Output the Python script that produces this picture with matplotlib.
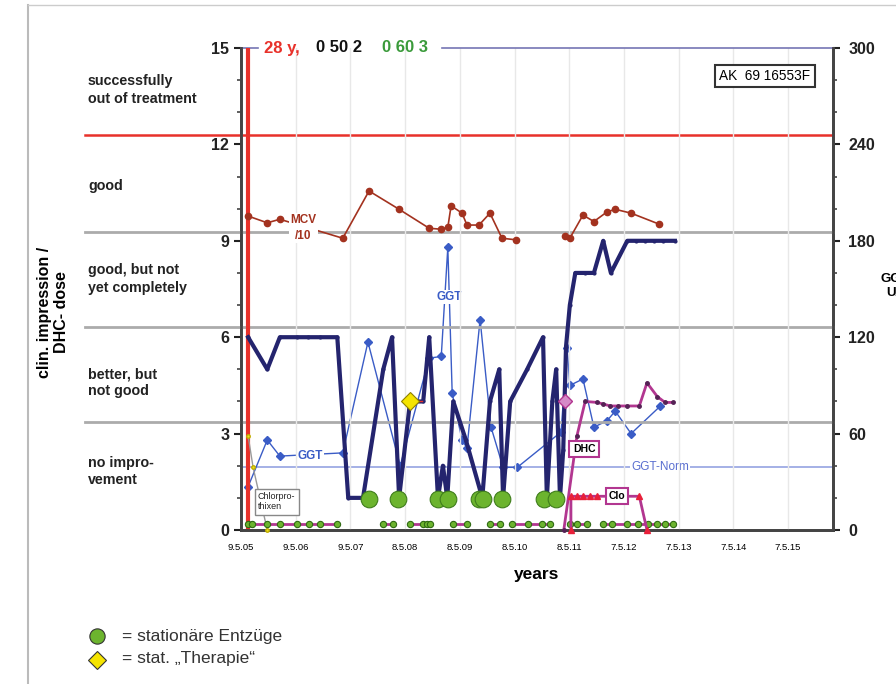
import numpy as np
import matplotlib.pyplot as plt
from matplotlib.lines import Line2D

plt.rcParams['font.family'] = ['Liberation Sans', 'DejaVu Sans']

# x-Achse: Jahre seit 9.5.05
tick_labels = ['9.5.05', '9.5.06', '9.5.07', '8.5.08', '8.5.09', '8.5.10',
               '8.5.11', '7.5.12', '7.5.13', '7.5.14', '7.5.15']

# klinischer Eindruck / DHC-Dosis (dicke Linie)
clin_x = [0.13, 0.48, 0.71, 1.02, 1.22, 1.44, 1.76, 1.96, 2.23, 2.60, 2.76, 2.89,
          3.09, 3.33, 3.44, 3.60, 3.69, 3.77, 3.88, 4.11, 4.41, 4.55, 4.72, 4.79,
          4.92, 5.23, 5.52, 5.59, 5.69, 5.76, 5.83, 5.89, 5.94, 6.01, 6.11, 6.29,
          6.45, 6.62, 6.76, 7.06, 7.22, 7.39, 7.55, 7.71, 7.93]
clin_y = [6, 5, 6, 6, 6, 6, 6, 1, 1, 5, 6, 1,
          4, 4, 6, 1, 2, 1, 4, 2.8, 1, 4, 5, 1,
          4, 5, 6, 1, 4, 5, 1, 2.5, 5.7, 7, 8, 8,
          8, 9, 8, 9, 9, 9, 9, 9, 9]

# GGT in U/l (rechte Achse)
ggt_x = [0.13, 0.48, 0.71, 1.86, 2.32, 2.91, 3.44, 3.66, 3.78, 3.86, 4.04, 4.13,
         4.37, 4.57, 4.79, 5.05, 5.85, 5.96, 6.01, 6.25, 6.45, 6.69, 6.84, 7.13, 7.66]
ggt_y = [27, 56, 46, 48, 117, 40, 107, 108, 176, 85, 56, 51,
         131, 64, 39, 39, 61, 113, 90, 94, 64, 68, 74, 60, 77]
ggt_norm = 39

# MCV (fl), dargestellt als MCV/10
mcv_x = [0.13, 0.48, 0.71, 1.86, 2.34, 2.89, 3.44, 3.66, 3.78, 3.84, 4.04, 4.13,
         4.35, 4.55, 4.77, 5.03, np.nan, 5.92, 6.01, 6.25, 6.45, 6.69, 6.84, 7.13, 7.64]
mcv_y = [97.7, 95.6, 96.7, 90.8, 105.5, 99.8, 93.9, 93.6, 94.2, 100.9, 98.6, 94.9,
         94.9, 98.6, 90.8, 90.3, np.nan, 91.5, 90.8, 98.0, 96.0, 99.0, 99.8, 98.6, 95.2]

# DHC
dhc_x = [5.90, 6.14, 6.29, 6.51, 6.62, 6.75, 6.89, 7.06, 7.28, 7.42, 7.61, 7.75, 7.90]
dhc_y = [0, 2.93, 4.0, 3.97, 3.92, 3.86, 3.86, 3.86, 3.86, 4.58, 4.15, 3.97, 3.97]

# Clo
clo_x = [6.03, 6.03, 6.14, 6.25, 6.38, 6.51, 7.28, 7.42]
clo_y = [0, 1.05, 1.05, 1.05, 1.05, 1.05, 1.05, 0]

# Chlorprothixen
chlor_x = [0.13, 0.22, 0.48]
chlor_y = [2.93, 1.96, 0]

# kleine Punkte unten (Gruppen)
dot_groups = [
    [0.13, 0.20, 0.48, 0.71, 1.02, 1.24, 1.44, 1.76],
    [2.60, 2.78],
    [3.09, 3.33, 3.40, 3.46],
    [3.88, 4.13],
    [4.55, 4.73],
    [4.95, 5.25, 5.50, 5.65],
    [6.01, 6.14, 6.33],
    [6.62, 6.78, 7.06, 7.26, 7.44, 7.61, 7.75, 7.90],
]
dot_level = 0.18

# stationäre Entzüge
entzug_x = [2.34, 2.87, 3.60, 3.78, 4.35, 4.42, 4.77, 5.54, 5.76]
entzug_y = [0.97] * len(entzug_x)

# stat. "Therapie"
therapie_x = [3.09]
therapie_y = [4.0]

# Kategorien links
cat_labels = ['successfully\nout of treatment', 'good', 'good, but not\nyet completely',
              'better, but\nnot good', 'no impro-\nvement']
cat_y = [13.69, 10.7, 7.81, 4.58, 1.82]
gray_levels = [3.36, 6.32, 9.27]
red_level = 12.3
start_x = 0.13

navy = '#24246e'
blue = '#3a5cc6'
brown = '#a3321f'
mag = '#b23690'
red = '#e8312a'
green = '#6cb42e'

fig = plt.figure(figsize=(8.96, 6.84), dpi=100)
ax = fig.add_axes([241 / 896, 1 - 530 / 684, (833 - 241) / 896, (530 - 48) / 684])
ax2 = ax.twinx()
ax.set_zorder(ax2.get_zorder() + 1)
ax.patch.set_visible(False)

ax.set_xlim(0, 10.82)
ax.set_ylim(0, 15)
ax2.set_ylim(0, 300)

ax.set_xticks(range(len(tick_labels)))
ax.set_xticklabels(tick_labels, fontsize=6.8)
ax.tick_params(axis='x', length=0, pad=9)
ax.set_yticks([0, 3, 6, 9, 12, 15])
ax.set_yticks(range(16), minor=True)
ax.tick_params(axis='y', which='major', labelsize=11.5, length=5, width=1.5, colors='#222')
ax.tick_params(axis='y', which='minor', length=3, width=1.2, colors='#444')
for lab in ax.get_yticklabels():
    lab.set_fontweight('bold')
ax2.set_yticks([0, 60, 120, 180, 240, 300])
ax2.set_yticks(range(0, 301, 20), minor=True)
ax2.tick_params(axis='y', which='major', labelsize=11.5, length=5, width=1.5, colors='#222',
                pad=6)
ax2.tick_params(axis='y', which='minor', length=3, width=1.2, colors='#444')
for lab in ax2.get_yticklabels():
    lab.set_fontweight('bold')
ax.set_xlabel('years', fontsize=12.5, fontweight='bold', labelpad=11)

for a in (ax, ax2):
    a.spines['top'].set_visible(False)
    for s in ('left', 'bottom', 'right'):
        a.spines[s].set_color('#444')
        a.spines[s].set_linewidth(2)

# obere Kante (blau) mit Lücke für Text
ax.plot([0, 0.028], [1, 1], color='#7676b4', lw=1.2, transform=ax.transAxes, clip_on=False)
ax.plot([0.34, 1], [1, 1], color='#7676b4', lw=1.2, transform=ax.transAxes, clip_on=False)

ax.grid(axis='x', color='#e8e8e8', lw=1)
ax2.grid(False)

# Bänder
x_left = (85 - 241) / (833 - 241)
for lv in gray_levels:
    ax.plot([x_left, 1], [lv, lv], color='#ababab', lw=2,
            transform=ax.get_yaxis_transform(), clip_on=False, zorder=1)
ax.plot([x_left, 1], [red_level, red_level], color=red, lw=1.8,
        transform=ax.get_yaxis_transform(), clip_on=False, zorder=1)
ax.axvline(start_x, color=red, lw=3, zorder=2)

for lab, y in zip(cat_labels, cat_y):
    ax.text(x_left + 0.005, y, lab, transform=ax.get_yaxis_transform(),
            fontsize=10.3, fontweight='bold', va='center', ha='left', color='#222',
            linespacing=1.3)

# GGT (rechte Achse)
ax2.axhline(ggt_norm, color='#95a3e2', lw=1.2, zorder=1)
ax2.text(7.66, ggt_norm, 'GGT-Norm', color='#5a6fd0', fontsize=8.5, ha='center', va='center',
         bbox=dict(facecolor='white', edgecolor='none', pad=0.5))
ax2.plot(ggt_x, ggt_y, color=blue, lw=1, marker='D', ms=4.5, zorder=3)
ax2.text(1.26, 46, 'GGT', color=blue, fontsize=8.5, fontweight='bold', ha='center', va='center',
         bbox=dict(facecolor='white', edgecolor='none', pad=1))
ax2.text(3.80, 145, 'GGT', color=blue, fontsize=8.5, fontweight='bold', ha='center', va='center',
         bbox=dict(facecolor='white', edgecolor='none', pad=1))

# MCV/10
mcv10 = np.array(mcv_y) / 10
ax.plot(mcv_x, mcv10, color=brown, lw=1.2, marker='o', ms=4.5, zorder=3)
ax.text(1.14, 9.4, 'MCV\n/10', color=brown, fontsize=8.5, fontweight='bold', ha='center',
        va='center', linespacing=1.4, bbox=dict(facecolor='white', edgecolor='none', pad=1))

# Chlorprothixen
ax.plot(chlor_x, chlor_y, color='#999', lw=1, marker='o', ms=2.5, mfc='#f0e020',
        mec='#c0b000', zorder=3, clip_on=False)
ax.text(0.31, 0.88, 'Chlorpro-\nthixen', fontsize=6.5, ha='left', va='center', color='#222',
        bbox=dict(facecolor='white', edgecolor='#888', pad=2.5), zorder=6)

# kleine Punkte unten
dx, dy = [], []
for g in dot_groups:
    dx += g + [np.nan]
    dy += [dot_level] * len(g) + [np.nan]
ax.plot(dx, dy, color=mag, lw=2, marker='o', ms=4.5, mfc=green, mec='#2f6a12',
        mew=0.8, zorder=4)

# DHC und Clo
ax.plot(dhc_x, dhc_y, color=mag, lw=2, marker='o', ms=2.5, mfc='#552255', mec='#552255',
        zorder=5, clip_on=False)
ax.plot(clo_x, clo_y, color=mag, lw=2, marker='^', ms=5, mfc='#e8203a', mec='#e8203a',
        zorder=5, clip_on=False)
ax.plot([5.92], [4.0], marker='D', ms=7, mfc='#d58ac8', mec=mag, ls='none', zorder=6)
ax.text(6.27, 2.52, 'DHC', fontsize=7.5, fontweight='bold', ha='center', va='center',
        bbox=dict(facecolor='white', edgecolor=mag, lw=1.5, pad=2.5), zorder=7)
ax.text(6.87, 1.06, 'Clo', fontsize=7.5, fontweight='bold', ha='center', va='center',
        bbox=dict(facecolor='white', edgecolor=mag, lw=1.5, pad=2), zorder=7)

# klinischer Eindruck
ax.plot(clin_x, clin_y, color=navy, lw=3, marker='o', ms=2, zorder=5)

# Entzüge und Therapie
ax.plot(entzug_x, entzug_y, ls='none', marker='o', ms=12, mfc=green, mec='#3f7d1c',
        mew=0.8, zorder=6)
ax.plot(therapie_x, therapie_y, ls='none', marker='D', ms=9, mfc='#f5e400',
        mec='#8f8000', mew=0.8, zorder=6)
ax.plot([3.12, 3.3], [4.0, 4.0], color=red, lw=1, zorder=5)

# Kopfzeile
ytop = 1 - 48 / 684
fig.text(264 / 896, ytop, '28 y,', color=red, fontsize=12, fontweight='bold', va='center')
fig.text(316 / 896, ytop, '0 50 2', color='#111', fontsize=12, fontweight='bold', va='center')
fig.text(382 / 896, ytop, '0 60 3', color='#3a9a3a', fontsize=12, fontweight='bold', va='center')

fig.text(765 / 896, 1 - 76 / 684, 'AK  69 16553F', fontsize=9.8, ha='center', va='center',
         bbox=dict(facecolor='white', edgecolor='#333', lw=1.5, pad=3))

fig.text(53 / 896, 1 - 312 / 684, 'clin. impression /\nDHC- dose', rotation=90,
         fontsize=11.5, fontweight='bold', ha='center', va='center', linespacing=1.2)
fig.text(895 / 896, 1 - 286 / 684, 'GGT\nU/l', fontsize=9.5, fontweight='bold',
         ha='center', va='center', linespacing=1.3)

# Rahmen
fig.add_artist(Line2D([28 / 896, 28 / 896], [0, 1 - 5 / 684], color='#bbb', lw=1.5))
fig.add_artist(Line2D([28 / 896, 1], [1 - 5 / 684, 1 - 5 / 684], color='#ccc', lw=1))

# Legende
fig.add_artist(Line2D([97 / 896], [1 - 636 / 684], marker='o', ms=11, mfc=green,
                      mec='#333', mew=0.8, ls='none'))
fig.add_artist(Line2D([97 / 896], [1 - 660 / 684], marker='D', ms=9, mfc='#f5e400',
                      mec='#333', mew=0.8, ls='none'))
fig.text(122 / 896, 1 - 636 / 684, '= stationäre Entzüge', fontsize=12.5, color='#333', va='center')
fig.text(122 / 896, 1 - 659 / 684, '= stat. \u201eTherapie\u201c', fontsize=12.5, color='#333', va='center')

fig.savefig('out.png', dpi=100)
